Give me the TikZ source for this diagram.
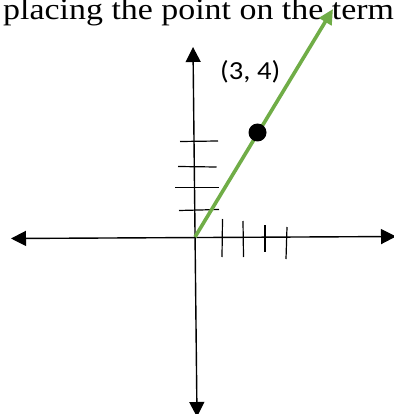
\documentclass[tikz,border=0pt]{standalone}
\usepackage{fontspec}
\setmainfont{Liberation Serif}
\newfontfamily\labelfont{Carlito}
\usetikzlibrary{arrows.meta}
\definecolor{vecgreen}{RGB}{112,173,71}
\tikzset{
  axis/.style={line width=1.4pt, black, {Triangle[length=15pt,width=15pt]}-{Triangle[length=15pt,width=15pt]}},
  tick/.style={line width=1.2pt, black},
  vec/.style={line width=3.6pt, vecgreen, -{Triangle[length=15pt,width=14pt]}},
  title/.style={anchor=base west, inner sep=0pt, xscale=1.13, font=\fontsize{30}{34}\selectfont},
  lbl/.style={anchor=base west, inner sep=0pt, xscale=1.1, font=\labelfont\fontsize{26}{30}\selectfont}
}
\begin{document}
\begin{tikzpicture}[x=1pt,y=-1pt]
\useasboundingbox (0,0) rectangle (393,414);
\fill[white] (0,0) rectangle (393,414);
\node[title] (title) at (3,20) {placing the point on the term};
% axes
\coordinate (O) at (195,237);
\coordinate (L) at (11,238.5);
\coordinate (R) at (396,236.5);
\coordinate (T) at (193,47);
\coordinate (B) at (197,417);
\draw[axis] (L) -- (R);
\draw[axis] (B) -- (T);
% y ticks
\coordinate (y1a) at (180,141.5); \coordinate (y1b) at (218,141);
\coordinate (y2a) at (178,166.5); \coordinate (y2b) at (216.5,167);
\coordinate (y3a) at (175,187.5); \coordinate (y3b) at (219,187.5);
\coordinate (y4a) at (179,210.5); \coordinate (y4b) at (219,209.5);
\draw[tick] (y1a) -- (y1b);
\draw[tick] (y2a) -- (y2b);
\draw[tick] (y3a) -- (y3b);
\draw[tick] (y4a) -- (y4b);
% x ticks
\coordinate (x1a) at (222.5,219); \coordinate (x1b) at (222,257);
\coordinate (x2a) at (243,221); \coordinate (x2b) at (243.5,257);
\coordinate (x3a) at (265,225); \coordinate (x3b) at (265,251.5);
\coordinate (x4a) at (287,227); \coordinate (x4b) at (286,259);
\draw[tick] (x1a) -- (x1b);
\draw[tick] (x2a) -- (x2b);
\draw[tick] (x3a) -- (x3b);
\draw[tick] (x4a) -- (x4b);
% vector
\coordinate (P) at (333,9);
\draw[vec] (O) -- (P);
% point
\fill[black] (257.5,132.5) circle (9);
\node[lbl] (pt) at (220,79.5) {(3, 4)};
\end{tikzpicture}
\end{document}
